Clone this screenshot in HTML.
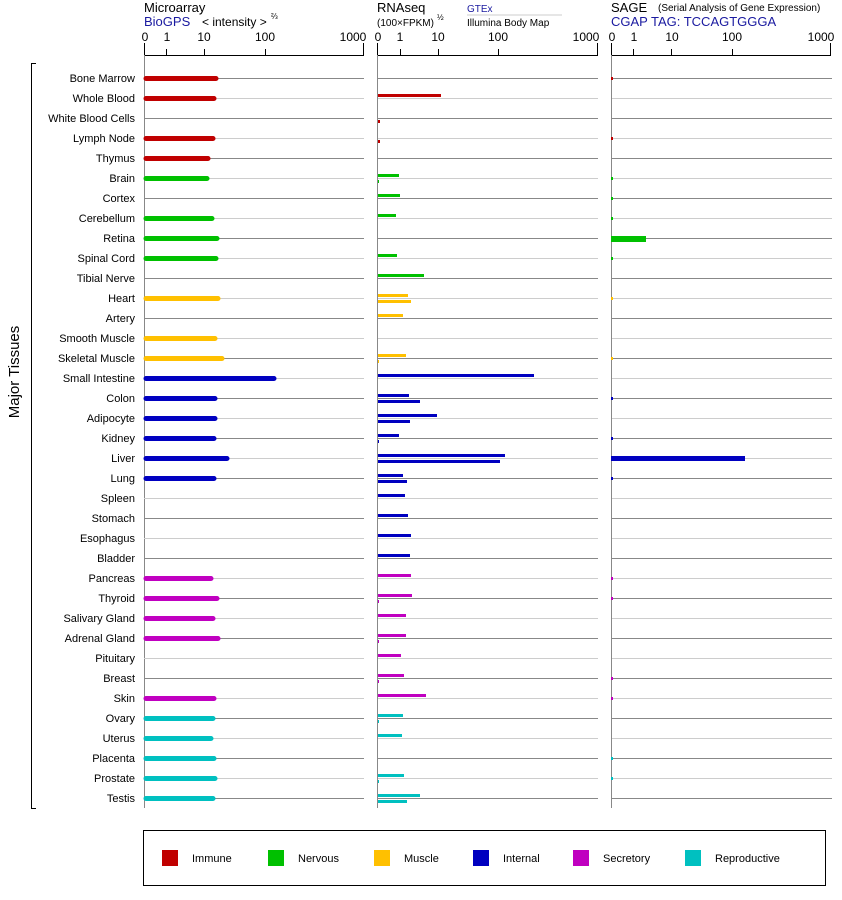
<!DOCTYPE html>
<html><head><meta charset="utf-8"><style>
body{margin:0;background:#fff;}
svg{display:block;font-family:"Liberation Sans",Arial,sans-serif;}
</style></head><body>
<svg width="842" height="900" viewBox="0 0 842 900" xmlns="http://www.w3.org/2000/svg">
<text x="144" y="12" font-size="13">Microarray</text>
<text x="144" y="26" font-size="13" fill="#1a1aa0">BioGPS</text>
<text x="202" y="26" font-size="12">&lt; intensity &gt;</text>
<text x="271" y="19" font-size="8">⅔</text>
<text x="377" y="12" font-size="13">RNAseq</text>
<text x="377" y="26" font-size="10">(100×FPKM)</text>
<text x="437" y="20" font-size="8">½</text>
<text x="467" y="12" font-size="10" fill="#1a1aa0">GTEx</text>
<line x1="467" y1="15" x2="562" y2="15" stroke="#ccc"/>
<text x="467" y="26" font-size="10">Illumina Body Map</text>
<text x="611" y="12" font-size="13">SAGE</text>
<text x="658" y="11" font-size="10">(Serial Analysis of Gene Expression)</text>
<text x="611" y="26" font-size="13" fill="#1a1aa0">CGAP TAG: TCCAGTGGGA</text>
<g font-size="12" text-anchor="middle">
<text x="145" y="41">0</text><text x="167" y="41">1</text><text x="204" y="41">10</text><text x="265" y="41">100</text><text x="353" y="41">1000</text>
<text x="378" y="41">0</text><text x="400" y="41">1</text><text x="438" y="41">10</text><text x="498" y="41">100</text><text x="586" y="41">1000</text>
<text x="612" y="41">0</text><text x="634" y="41">1</text><text x="672" y="41">10</text><text x="732" y="41">100</text><text x="821" y="41">1000</text>
</g>
<g stroke="#000" stroke-width="1" fill="none">
<path d="M144.5 43V55.5H363.5V43M166.5 49V55M204.5 49V55M265.5 49V55"/>
<path d="M377.5 43V55.5H597.5V43M400.5 49V55M438.5 49V55M498.5 49V55"/>
<path d="M611.5 43V55.5H830.5V43M633.5 49V55M671.5 49V55M732.5 49V55"/>
</g>
<g stroke="#888"><line x1="144.5" y1="55" x2="144.5" y2="808"/><line x1="377.5" y1="55" x2="377.5" y2="808"/><line x1="611.5" y1="55" x2="611.5" y2="808"/></g>
<path d="M36 63.5H31.5V808.5H36" fill="none" stroke="#000"/>
<text transform="translate(19,372) rotate(-90)" font-size="15" text-anchor="middle">Major Tissues</text>
<g stroke-width="1" fill="none">
<g stroke="#888">
<path d="M144 78.5H364M378 78.5H598M612 78.5H832"/>
<path d="M144 118.5H364M378 118.5H598M612 118.5H832"/>
<path d="M144 158.5H364M378 158.5H598M612 158.5H832"/>
<path d="M144 198.5H364M378 198.5H598M612 198.5H832"/>
<path d="M144 238.5H364M378 238.5H598M612 238.5H832"/>
<path d="M144 278.5H364M378 278.5H598M612 278.5H832"/>
<path d="M144 318.5H364M378 318.5H598M612 318.5H832"/>
<path d="M144 358.5H364M378 358.5H598M612 358.5H832"/>
<path d="M144 398.5H364M378 398.5H598M612 398.5H832"/>
<path d="M144 438.5H364M378 438.5H598M612 438.5H832"/>
<path d="M144 478.5H364M378 478.5H598M612 478.5H832"/>
<path d="M144 518.5H364M378 518.5H598M612 518.5H832"/>
<path d="M144 558.5H364M378 558.5H598M612 558.5H832"/>
<path d="M144 598.5H364M378 598.5H598M612 598.5H832"/>
<path d="M144 638.5H364M378 638.5H598M612 638.5H832"/>
<path d="M144 678.5H364M378 678.5H598M612 678.5H832"/>
<path d="M144 718.5H364M378 718.5H598M612 718.5H832"/>
<path d="M144 758.5H364M378 758.5H598M612 758.5H832"/>
<path d="M144 798.5H364M378 798.5H598M612 798.5H832"/>
</g>
<g stroke="#ccc">
<path d="M144 98.5H364M378 98.5H598M612 98.5H832"/>
<path d="M144 138.5H364M378 138.5H598M612 138.5H832"/>
<path d="M144 178.5H364M378 178.5H598M612 178.5H832"/>
<path d="M144 218.5H364M378 218.5H598M612 218.5H832"/>
<path d="M144 258.5H364M378 258.5H598M612 258.5H832"/>
<path d="M144 298.5H364M378 298.5H598M612 298.5H832"/>
<path d="M144 338.5H364M378 338.5H598M612 338.5H832"/>
<path d="M144 378.5H364M378 378.5H598M612 378.5H832"/>
<path d="M144 418.5H364M378 418.5H598M612 418.5H832"/>
<path d="M144 458.5H364M378 458.5H598M612 458.5H832"/>
<path d="M144 498.5H364M378 498.5H598M612 498.5H832"/>
<path d="M144 538.5H364M378 538.5H598M612 538.5H832"/>
<path d="M144 578.5H364M378 578.5H598M612 578.5H832"/>
<path d="M144 618.5H364M378 618.5H598M612 618.5H832"/>
<path d="M144 658.5H364M378 658.5H598M612 658.5H832"/>
<path d="M144 698.5H364M378 698.5H598M612 698.5H832"/>
<path d="M144 738.5H364M378 738.5H598M612 738.5H832"/>
<path d="M144 778.5H364M378 778.5H598M612 778.5H832"/>
</g>
</g>
<g font-size="11" text-anchor="end">
<text x="135" y="82">Bone Marrow</text><text x="135" y="102">Whole Blood</text><text x="135" y="122">White Blood Cells</text><text x="135" y="142">Lymph Node</text><text x="135" y="162">Thymus</text><text x="135" y="182">Brain</text><text x="135" y="202">Cortex</text><text x="135" y="222">Cerebellum</text><text x="135" y="242">Retina</text><text x="135" y="262">Spinal Cord</text><text x="135" y="282">Tibial Nerve</text><text x="135" y="302">Heart</text><text x="135" y="322">Artery</text><text x="135" y="342">Smooth Muscle</text><text x="135" y="362">Skeletal Muscle</text><text x="135" y="382">Small Intestine</text><text x="135" y="402">Colon</text><text x="135" y="422">Adipocyte</text><text x="135" y="442">Kidney</text><text x="135" y="462">Liver</text><text x="135" y="482">Lung</text><text x="135" y="502">Spleen</text><text x="135" y="522">Stomach</text><text x="135" y="542">Esophagus</text><text x="135" y="562">Bladder</text><text x="135" y="582">Pancreas</text><text x="135" y="602">Thyroid</text><text x="135" y="622">Salivary Gland</text><text x="135" y="642">Adrenal Gland</text><text x="135" y="662">Pituitary</text><text x="135" y="682">Breast</text><text x="135" y="702">Skin</text><text x="135" y="722">Ovary</text><text x="135" y="742">Uterus</text><text x="135" y="762">Placenta</text><text x="135" y="782">Prostate</text><text x="135" y="802">Testis</text>
</g>
<g stroke-width="5" stroke-linecap="round" fill="none">
<g stroke="#c00000"><path d="M146 78.5H216M146 98.5H214M146 138.5H213M146 158.5H208"/></g>
<g stroke="#00c000"><path d="M146 178.5H207M146 218.5H212M146 238.5H217M146 258.5H216"/></g>
<g stroke="#ffc000"><path d="M146 298.5H218M146 338.5H215M146 358.5H222"/></g>
<g stroke="#0000c0"><path d="M146 378.5H274M146 398.5H215M146 418.5H215M146 438.5H214M146 458.5H227M146 478.5H214"/></g>
<g stroke="#c000c0"><path d="M146 578.5H211M146 598.5H217M146 618.5H213M146 638.5H218M146 698.5H214"/></g>
<g stroke="#00c0c0"><path d="M146 718.5H213M146 738.5H211M146 758.5H214M146 778.5H215M146 798.5H213"/></g>
</g>
<g fill="#c00000"><rect x="378" y="94" width="63" height="3"/><rect x="378" y="120" width="2" height="3"/><rect x="378" y="140" width="2" height="3"/></g>
<g fill="#00c000"><rect x="378" y="174" width="21" height="3"/><rect x="378" y="180" width="1" height="3"/><rect x="378" y="194" width="22" height="3"/><rect x="378" y="214" width="18" height="3"/><rect x="378" y="254" width="19" height="3"/><rect x="378" y="274" width="46" height="3"/></g>
<g fill="#ffc000"><rect x="378" y="294" width="30" height="3"/><rect x="378" y="300" width="33" height="3"/><rect x="378" y="314" width="25" height="3"/><rect x="378" y="354" width="28" height="3"/><rect x="378" y="360" width="1" height="3"/></g>
<g fill="#0000c0"><rect x="378" y="374" width="156" height="3"/><rect x="378" y="394" width="31" height="3"/><rect x="378" y="400" width="42" height="3"/><rect x="378" y="414" width="59" height="3"/><rect x="378" y="420" width="32" height="3"/><rect x="378" y="434" width="21" height="3"/><rect x="378" y="440" width="1" height="3"/><rect x="378" y="454" width="127" height="3"/><rect x="378" y="460" width="122" height="3"/><rect x="378" y="474" width="25" height="3"/><rect x="378" y="480" width="29" height="3"/><rect x="378" y="494" width="27" height="3"/><rect x="378" y="514" width="30" height="3"/><rect x="378" y="534" width="33" height="3"/><rect x="378" y="554" width="32" height="3"/></g>
<g fill="#c000c0"><rect x="378" y="574" width="33" height="3"/><rect x="378" y="594" width="34" height="3"/><rect x="378" y="600" width="1" height="3"/><rect x="378" y="614" width="28" height="3"/><rect x="378" y="634" width="28" height="3"/><rect x="378" y="640" width="1" height="3"/><rect x="378" y="654" width="23" height="3"/><rect x="378" y="674" width="26" height="3"/><rect x="378" y="680" width="1" height="3"/><rect x="378" y="694" width="48" height="3"/></g>
<g fill="#00c0c0"><rect x="378" y="714" width="25" height="3"/><rect x="378" y="720" width="1" height="3"/><rect x="378" y="734" width="24" height="3"/><rect x="378" y="774" width="26" height="3"/><rect x="378" y="780" width="1" height="3"/><rect x="378" y="794" width="42" height="3"/><rect x="378" y="800" width="29" height="3"/></g>
<g><rect x="611" y="77" width="2" height="3" fill="#c00000"/><rect x="611" y="137" width="2" height="3" fill="#c00000"/>
<rect x="611" y="177" width="2" height="3" fill="#00c000"/><rect x="611" y="197" width="2" height="3" fill="#00c000"/><rect x="611" y="217" width="2" height="3" fill="#00c000"/><rect x="611" y="236" width="35" height="6" fill="#00c000"/><rect x="611" y="257" width="2" height="3" fill="#00c000"/>
<rect x="611" y="297" width="2" height="3" fill="#ffc000"/><rect x="611" y="357" width="2" height="3" fill="#ffc000"/>
<rect x="611" y="397" width="2" height="3" fill="#0000c0"/><rect x="611" y="437" width="2" height="3" fill="#0000c0"/><rect x="611" y="456" width="134" height="5" fill="#0000c0"/><rect x="611" y="477" width="2" height="3" fill="#0000c0"/>
<rect x="611" y="577" width="2" height="3" fill="#c000c0"/><rect x="611" y="597" width="2" height="3" fill="#c000c0"/><rect x="611" y="677" width="2" height="3" fill="#c000c0"/><rect x="611" y="697" width="2" height="3" fill="#c000c0"/>
<rect x="611" y="757" width="2" height="3" fill="#00c0c0"/><rect x="611" y="777" width="2" height="3" fill="#00c0c0"/></g>
<rect x="143.5" y="830.5" width="682" height="55" fill="none" stroke="#000"/>
<g font-size="11">
<rect x="162" y="850" width="16" height="16" fill="#c00000"/><text x="192" y="862">Immune</text>
<rect x="268" y="850" width="16" height="16" fill="#00c000"/><text x="298" y="862">Nervous</text>
<rect x="374" y="850" width="16" height="16" fill="#ffc000"/><text x="404" y="862">Muscle</text>
<rect x="473" y="850" width="16" height="16" fill="#0000c0"/><text x="503" y="862">Internal</text>
<rect x="573" y="850" width="16" height="16" fill="#c000c0"/><text x="603" y="862">Secretory</text>
<rect x="685" y="850" width="16" height="16" fill="#00c0c0"/><text x="715" y="862">Reproductive</text>
</g>
</svg>
</body></html>
